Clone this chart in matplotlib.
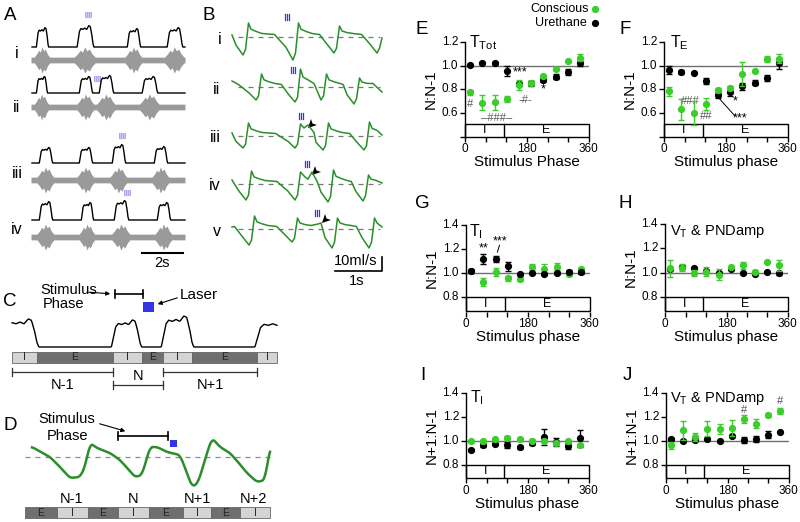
import numpy as np
import matplotlib
matplotlib.use('Agg')
import matplotlib.pyplot as plt
import matplotlib.transforms as mtrans
from matplotlib.patches import Rectangle, Polygon

plt.rcParams['font.family'] = ['Liberation Sans', 'DejaVu Sans']
plt.rcParams['mathtext.fontset'] = 'custom'
plt.rcParams['mathtext.rm'] = 'Liberation Sans'
plt.rcParams['mathtext.it'] = 'Liberation Sans:italic'

# ---------------- data (summary panels E-J) ----------------
phase = [15, 50, 86, 121, 157, 192, 228, 263, 298, 334]

E_con = [0.775, 0.686, 0.69, 0.717, 0.836, 0.855, 0.91, 0.97, 1.044, 1.067]
E_con_err = [0.02, 0.063, 0.063, 0.025, 0.04, 0.02, 0.015, 0.01, 0.0, 0.03]
E_ure = [1.01, 1.027, 1.02, 0.955, 0.845, 0.85, 0.878, 0.908, 0.947, 1.022]
E_ure_err = [0.008, 0.008, 0.012, 0.04, 0.02, 0.025, 0.018, 0.02, 0.024, 0.02]

F_con = [0.784, 0.632, 0.60, 0.677, 0.795, 0.81, 0.928, 0.953, 1.057, 1.06]
F_con_err = [0.04, 0.09, 0.1, 0.05, 0.02, 0.015, 0.1, 0.01, 0.025, 0.04]
F_ure = [0.967, 0.947, 0.94, 0.87, 0.753, 0.78, 0.825, 0.858, 0.90, 1.02]
F_ure_err = [0.035, 0.02, 0.005, 0.025, 0.025, 0.035, 0.03, 0.02, 0.025, 0.045]

G_con = [1.02, 0.93, 1.014, 0.96, 0.957, 1.05, 1.04, 1.055, 0.995, 1.033]
G_con_err = [0.01, 0.035, 0.035, 0.02, 0.02, 0.025, 0.04, 0.03, 0.015, 0.015]
G_ure = [1.022, 1.118, 1.12, 1.058, 0.995, 1.005, 0.995, 1.003, 1.015, 1.008]
G_ure_err = [0.015, 0.04, 0.025, 0.035, 0.01, 0.01, 0.01, 0.01, 0.01, 0.01]

H_con = [1.035, 1.04, 0.997, 1.008, 0.982, 1.045, 1.06, 1.005, 1.085, 1.058]
H_con_err = [0.07, 0.03, 0.025, 0.035, 0.045, 0.01, 0.03, 0.015, 0.01, 0.045]
H_ure = [1.03, 1.045, 1.037, 1.01, 0.995, 1.03, 0.995, 0.99, 1.005, 0.993]
H_ure_err = [0.01] * 10

I_con = [1.0, 0.995, 1.012, 1.028, 1.012, 1.003, 1.003, 0.985, 1.0, 0.967]
I_con_err = [0.01] * 10
I_ure = [0.925, 0.962, 0.975, 0.965, 0.945, 0.983, 1.033, 0.99, 0.958, 1.02]
I_ure_err = [0.01, 0.01, 0.01, 0.025, 0.01, 0.02, 0.07, 0.035, 0.025, 0.07]

J_con = [0.962, 1.09, 1.035, 1.103, 1.10, 1.106, 1.183, 1.145, 1.215, 1.25]
J_con_err = [0.03, 0.08, 0.035, 0.06, 0.045, 0.065, 0.035, 0.04, 0.015, 0.025]
J_ure = [1.017, 0.997, 1.011, 1.017, 0.997, 1.042, 1.008, 1.017, 1.05, 1.073]
J_ure_err = [0.01, 0.01, 0.01, 0.01, 0.01, 0.01, 0.025, 0.025, 0.03, 0.01]

# ---------------- data (trace panels A-D, pixel units) ----------------
A_base = [47, 93, 163, 220]
A_emg = [60, 107, 180, 237]
A_bursts = [[(37, 48), (78, 93), (128, 140), (168, 182)],
            [(37, 47), (80, 92), (100, 113), (143, 157)],
            [(40, 52), (80, 92), (113, 125), (155, 167)],
            [(40, 52), (82, 93), (115, 128), (158, 170)]]
A_heights = [[20, 22, 19, 20], [17, 17, 18, 17], [16, 16, 19, 17], [19, 18, 20, 18]]
A_stim = [(88, 15), (97, 79), (122, 136), (127, 193)]
A_labels = ['i', 'ii', 'iii', 'iv']
A_label_y = [53, 108, 173, 230]
BURST_SHAPE = [(-0.06, 0.0), (0.02, 0.35), (0.1, 0.72), (0.2, 0.84), (0.32, 0.8), (0.45, 0.86),
               (0.58, 0.8), (0.72, 0.97), (0.82, 0.92), (0.92, 0.55), (1.0, 0.15), (1.06, 0.0)]
EMG_SHAPE = [(-0.25, 0.22), (-0.05, 0.45), (0.15, 0.75), (0.3, 0.6), (0.45, 1.0), (0.6, 0.7),
             (0.75, 0.85), (0.95, 0.45), (1.15, 0.22)]

B_base = [37, 87, 136, 184, 229]
B_rises = [[247, 297, 338, 381], [260, 299, 325, 358], [247, 299, 327, 368],
           [250, 299, 332, 367], [253, 296, 336, 373]]
B_peaks = [[14, 14, 11, 4], [13, 18, 13, 9], [13, 12, 13, 14], [13, 12, 14, 9], [13, 11, 11, 11]]
B_depths = [[18, 23, 16, 16], [13, 15, 13, 17], [12, 12, 14, 14], [16, 16, 18, 17], [16, 13, 19, 19]]
B_bumps = [[], [], [(304, 8), (308, 11)], [(305, 7), (312, 12)], [(318, 5), (321, 6)]]
B_start = [2, 6, 3, 4, 2]
B_end = [-1, -5, 1, 1, 2]
B_stim = [(287, 17), (293, 70), (301, 116), (307, 164), (317, 213)]
B_arrows = [(308, 128), (312, 175), (322, 223)]
B_labels = ['i', 'ii', 'iii', 'iv', 'v']
B_label_x = [220, 217, 215, 215, 217]
B_label_y = [40, 89, 137, 185, 232]

C_base = 347
C_bursts = [(6, 37), (113, 140), (163, 192), (257, 292)]
C_heights = [29, 28, 32, 27]
C_segments = [(12, 37, 'I'), (37, 113, 'E'), (113, 142, 'I'), (142, 163, 'E'),
              (163, 192, 'I'), (192, 257, 'E'), (257, 277, 'I')]

D_x = [32, 50, 60, 70, 80, 85, 90, 97, 110, 120, 127, 135, 142, 150, 157, 167, 180, 187,
       192, 198, 207, 212, 220, 230, 238, 247, 257, 265, 270]
D_y = [447, 457, 467, 478, 477, 467, 443, 448, 453, 460, 468, 477, 475, 447, 447, 452, 455, 473,
       487, 483, 453, 438, 447, 453, 462, 473, 482, 480, 447]
D_segments = [(25, 57, 'E'), (57, 88, 'I'), (88, 118, 'E'), (118, 149, 'I'), (149, 183, 'E'),
              (183, 211, 'I'), (211, 240, 'E'), (240, 270, 'I')]
D_cycle_labels = [(72, 'N-1'), (133, 'N'), (197, 'N+1'), (253, 'N+2')]

GREEN = '#3ccc2c'
TGREEN = '#2a8f2a'
BLUE = '#3535e6'
LBLUE = '#a9a9f4'
DARKSEG = '#6f6f6f'
LIGHTSEG = '#d4d4d4'

fig = plt.figure(figsize=(8, 5.22), dpi=100)
ax0 = fig.add_axes([0, 0, 1, 1], zorder=-1)
ax0.set_xlim(0, 800)
ax0.set_ylim(522, 0)
ax0.axis('off')


def shape_points(s, e, shape):
    d = e - s
    return [s + f * d for f, _ in shape], [v for _, v in shape]


# ---------------- panel A ----------------
ax0.text(10, 15, 'A', fontsize=13.5, ha='center', va='center')
t0, t1 = 32, 185
for r in range(4):
    xs, ys = [t0], [0.0]
    ex, ey = [t0 - 1], [0.22]
    for (s, e), h in zip(A_bursts[r], A_heights[r]):
        px, pv = shape_points(s, e, BURST_SHAPE)
        xs += px
        ys += [v * h for v in pv]
        qx, qv = shape_points(s, e, EMG_SHAPE)
        ex += qx
        ey += qv
    xs.append(t1)
    ys.append(0.0)
    ex.append(t1)
    ey.append(0.22)
    ax0.plot(xs, [A_base[r] - v for v in ys], color='k', lw=1.0)
    hw = np.array(ey) * 13
    ax0.fill_between(ex, A_emg[r] - hw, A_emg[r] + hw, color='#9a9a9a', lw=0)
    sx, sy = A_stim[r]
    ax0.add_patch(Rectangle((sx - 3.5, sy - 3), 7, 6, color=LBLUE, lw=0))
    for k in range(3):
        ax0.plot([sx - 2 + 2 * k] * 2, [sy - 3, sy + 3], color='#d8d8fb', lw=0.5)
    ax0.text(17, A_label_y[r], A_labels[r], fontsize=11.5, ha='center', va='center')
ax0.plot([142, 183], [253, 253], color='k', lw=1.5)
ax0.text(162, 263, '2s', fontsize=10.5, ha='center', va='center')

# ---------------- panel B ----------------
ax0.text(209, 15, 'B', fontsize=13.5, ha='center', va='center')
bt0, bt1 = 232, 382
for r in range(5):
    pts = [(bt0, B_start[r])]
    prev = bt0 - 20
    for t, p, d in zip(B_rises[r], B_peaks[r], B_depths[r]):
        gap = t - prev
        cand = [(t - 0.45 * gap, 2.5), (t - 11, -0.45 * d), (t - 4, -d), (t - 1.5, -0.7 * d),
                (t + 1.5, p), (t + 4, 0.55 * p), (t + 9, 0.4 * p), (t + 15, 3.5)]
        for c in cand:
            if c[0] > pts[-1][0] + 0.5:
                pts.append(c)
        prev = t
    bumps = B_bumps[r]
    pts = [p for p in pts if all(abs(p[0] - b[0]) > 2.5 for b in bumps)]
    pts = sorted(pts + bumps)
    pts = [p for p in pts if p[0] < bt1]
    pts.append((bt1, B_end[r]))
    px = [p[0] for p in pts]
    py = [B_base[r] - p[1] for p in pts]
    ax0.plot([238, 380], [B_base[r]] * 2, color='#777777', lw=0.9, dashes=(4, 4))
    ax0.plot(px, py, color=TGREEN, lw=1.1)
    sx, sy = B_stim[r]
    for k in range(3):
        ax0.plot([sx - 2 + 2 * k] * 2, [sy - 3, sy + 3], color=BLUE, lw=0.9)
    ax0.text(B_label_x[r], B_label_y[r], B_labels[r], fontsize=11.5, ha='center', va='center')
for tx, ty in B_arrows:
    ax0.add_patch(Polygon([(tx, ty), (tx + 9, ty - 3), (tx + 4.5, ty - 4.5), (tx + 3, ty - 9)],
                          closed=True, color='k', lw=0))
ax0.plot([335, 382, 382], [271, 271, 257], color='k', lw=1.2)
ax0.text(356, 261, '10ml/s', fontsize=10.5, ha='center', va='center')
ax0.text(357, 281, '1s', fontsize=10.5, ha='center', va='center')

# ---------------- panel C ----------------
ax0.text(10, 301, 'C', fontsize=13.5, ha='center', va='center')
ax0.text(69, 290, 'Stimulus', fontsize=10.5, ha='center', va='center')
ax0.text(63, 304, 'Phase', fontsize=10.5, ha='center', va='center')
ax0.annotate('', xy=(113, 294), xytext=(86, 292),
             arrowprops=dict(arrowstyle='-|>', color='k', lw=0.8, mutation_scale=6))
ax0.plot([115, 143], [294, 294], color='k', lw=1.2)
ax0.plot([115, 115], [290, 298], color='k', lw=1.2)
ax0.plot([143, 143], [290, 298], color='k', lw=1.2)
ax0.text(199, 295, 'Laser', fontsize=11, ha='center', va='center')
ax0.annotate('', xy=(155, 305), xytext=(180, 297),
             arrowprops=dict(arrowstyle='-|>', color='k', lw=0.8, mutation_scale=6))
ax0.add_patch(Rectangle((143, 302), 11, 10, color=BLUE, lw=0))
cx, cy = [], []
for (s, e), h in zip(C_bursts, C_heights):
    px, pv = shape_points(s, e, BURST_SHAPE)
    cx += px
    cy += [v * h for v in pv]
gx = np.linspace(12, 277, 400)
gy = np.interp(gx, np.array(cx), np.array(cy))
ax0.plot(gx, C_base - gy, color='k', lw=1.0)
for s, e, lab in C_segments:
    ax0.add_patch(Rectangle((s, 352), e - s, 11, facecolor=DARKSEG if lab == 'E' else LIGHTSEG,
                            edgecolor='#666666', lw=0.6))
    ax0.text((s + e) / 2, 357.5, lab, fontsize=7.5, ha='center', va='center', color='#222222')
for x0b, x1b, yb, lab, ly in [(12, 113, 372, 'N-1', 385), (113, 163, 385, 'N', 376),
                              (163, 257, 372, 'N+1', 385)]:
    ax0.plot([x0b, x1b], [yb, yb], color='#333333', lw=0.9)
    ax0.plot([x0b, x0b], [yb - 4, yb + 4], color='#333333', lw=0.9)
    ax0.plot([x1b, x1b], [yb - 4, yb + 4], color='#333333', lw=0.9)
    ax0.text((x0b + x1b) / 2, ly, lab, fontsize=10.5, ha='center', va='center')

# ---------------- panel D ----------------
ax0.text(10, 425, 'D', fontsize=13.5, ha='center', va='center')
ax0.text(67, 419, 'Stimulus', fontsize=10.5, ha='center', va='center')
ax0.text(68, 436, 'Phase', fontsize=10.5, ha='center', va='center')
ax0.annotate('', xy=(128, 432), xytext=(97, 423),
             arrowprops=dict(arrowstyle='-|>', color='k', lw=0.8, mutation_scale=6))
ax0.plot([118, 168], [436, 436], color='k', lw=1.2)
ax0.plot([118, 118], [432, 440], color='k', lw=1.2)
ax0.plot([168, 168], [432, 440], color='k', lw=1.2)
ax0.add_patch(Rectangle((170, 440), 7, 7, color=BLUE, lw=0))
ax0.plot([25, 273], [457, 457], color='#888888', lw=0.9, dashes=(4, 4))
dx = np.linspace(D_x[0], D_x[-1], 600)
dy = np.interp(dx, D_x, D_y)
kern = np.ones(15) / 15
dys = np.convolve(np.pad(dy, 7, mode='edge'), kern, mode='valid')
ax0.plot(dx, dys, color=TGREEN, lw=1.8)
for s, e, lab in D_segments:
    ax0.add_patch(Rectangle((s, 507), e - s, 11, facecolor=DARKSEG if lab == 'E' else LIGHTSEG,
                            edgecolor='#666666', lw=0.6))
    ax0.text((s + e) / 2, 512.5, lab, fontsize=7.5, ha='center', va='center', color='#222222')
for xl, lab in D_cycle_labels:
    ax0.text(xl, 499, lab, fontsize=10.5, ha='center', va='center')


# ---------------- panels E-J ----------------
def make_ax(x0, x1, ytop, ybot):
    return fig.add_axes([x0 / 800, 1 - ybot / 522, (x1 - x0) / 800, (ybot - ytop) / 522],
                        facecolor='none')


def setup(ax, ylim, yticks, bar_top, xlabel, ylabel, ylab_x, ylab_y):
    eps = 0.004
    ax.set_xlim(-0.5, 360.5)
    ax.set_ylim(ylim[0] - eps, ylim[1] + eps)
    for sp in ['top', 'right']:
        ax.spines[sp].set_visible(False)
    ax.spines['left'].set_linewidth(1.0)
    ax.spines['left'].set_bounds(ylim[0], ylim[1])
    ax.spines['bottom'].set_visible(False)
    ax.plot([0, 360], [1.0, 1.0], color='#707070', lw=1.0, zorder=1)
    ax.add_patch(Rectangle((0, ylim[0]), 360, bar_top - ylim[0], fill=False, ec='k', lw=1.0,
                           clip_on=False, zorder=2))
    ax.plot([112, 112], [ylim[0], bar_top], color='k', lw=1.0, zorder=2)
    mid = (ylim[0] + bar_top) / 2
    ax.text(56, mid, 'I', fontsize=9, ha='center', va='center')
    ax.text(236, mid, 'E', fontsize=9, ha='center', va='center')
    ax.set_xticks([0, 180, 360])
    ax.set_xticks([60, 120, 240, 300], minor=True)
    ax.set_yticks(yticks)
    ax.set_yticklabels([])
    ax.tick_params(which='both', direction='out', length=3.5, width=1.0, labelsize=8.5, pad=1.5)
    ax.tick_params(axis='x', pad=1.0)
    # y tick labels written as text, right-aligned just left of the ticks
    tr = ax.get_yaxis_transform() + mtrans.ScaledTranslation(-0.07, 0, fig.dpi_scale_trans)
    for t in yticks:
        if t >= bar_top - 1e-6:
            ax.text(0, t, f'{t:.1f}', transform=tr, fontsize=8.5, ha='right', va='center',
                    clip_on=False, zorder=10)
    ax.set_xlabel(xlabel, fontsize=11, labelpad=0)
    ax.set_ylabel(ylabel, fontsize=11)
    ax.yaxis.set_label_coords(ylab_x, ylab_y)


def points(ax, con, con_err, ure, ure_err, black_top=False):
    zc, zu = (3, 4) if black_top else (4, 3)
    ax.errorbar(phase, ure, yerr=ure_err, fmt='o', color='k', ms=4.2, capsize=2, elinewidth=1,
                capthick=1, zorder=zu, clip_on=False)
    ax.errorbar(phase, con, yerr=con_err, fmt='o', color=GREEN, ms=4.2, capsize=2, elinewidth=1,
                capthick=1, zorder=zc, clip_on=False)


def ftext(x, y, s, **kw):
    fig.text(x / 800, 1 - y / 522, s, **kw)


ANN = '#555555'
# E
axE = make_ax(465, 589, 41.7, 137)
setup(axE, (0.4, 1.2), [0.4, 0.6, 0.8, 1.0, 1.2], 0.51, 'Stimulus Phase', 'N:N-1', -0.22, 0.5)
points(axE, E_con, E_con_err, E_ure, E_ure_err)
axE.text(15, 0.672, '#', fontsize=8, ha='center', va='center', color=ANN)
axE.text(160, 0.94, '***', fontsize=9, ha='center', va='center')
axE.text(228, 0.80, '*', fontsize=9, ha='center', va='center')
axE.text(176, 0.711, '-#-', fontsize=8, ha='center', va='center', color=ANN)
axE.text(92, 0.561, '\u2013###\u2013', fontsize=8, ha='center', va='center', color=ANN)

# F
axF = make_ax(664, 788, 41.7, 137)
setup(axF, (0.4, 1.2), [0.4, 0.6, 0.8, 1.0, 1.2], 0.51, 'Stimulus phase', 'N:N-1', -0.22, 0.5)
points(axF, F_con, F_con_err, F_ure, F_ure_err)
axF.text(75, 0.703, '###', fontsize=8, ha='center', va='center', color=ANN)
axF.text(123, 0.572, '##', fontsize=8, ha='center', va='center', color=ANN)
axF.text(208, 0.697, '*', fontsize=9, ha='center', va='center')
axF.text(222, 0.55, '***', fontsize=9, ha='center', va='center')
axF.plot([162, 205], [0.717, 0.578], color='k', lw=0.7)

# G
axG = make_ax(466, 590, 225, 311.7)
setup(axG, (0.685, 1.4), [0.8, 1.0, 1.2, 1.4], 0.8, 'Stimulus phase', 'N:N-1', -0.22, 0.5)
points(axG, G_con, G_con_err, G_ure, G_ure_err, black_top=True)
axG.text(52, 1.212, '**', fontsize=9, ha='center', va='center')
axG.text(100, 1.27, '***', fontsize=9, ha='center', va='center')
axG.plot([91, 97], [1.178, 1.235], color='k', lw=0.7)

# H
axH = make_ax(665, 788, 223.3, 311.7)
setup(axH, (0.683, 1.4), [0.8, 1.0, 1.2, 1.4], 0.8, 'Stimulus phase', 'N:N-1', -0.22, 0.5)
points(axH, H_con, H_con_err, H_ure, H_ure_err)

# I
axI = make_ax(466, 589, 392.7, 478.3)
setup(axI, (0.69, 1.4), [0.8, 1.0, 1.2, 1.4], 0.8, 'Stimulus phase', 'N+1:N-1', -0.22, 0.5)
points(axI, I_con, I_con_err, I_ure, I_ure_err)

# J
axJ = make_ax(666, 789, 392.7, 478.3)
setup(axJ, (0.69, 1.4), [0.8, 1.0, 1.2, 1.4], 0.8, 'Stimulus phase', 'N+1:N-1', -0.22, 0.5)
points(axJ, J_con, J_con_err, J_ure, J_ure_err)
axJ.text(228, 1.255, '#', fontsize=8, ha='center', va='center', color=ANN)
axJ.text(334, 1.334, '#', fontsize=8, ha='center', va='center', color=ANN)

# titles
ftext(469, 47, r'T$_{\mathrm{Tot}}$', fontsize=11.5, ha='left', va='baseline')
ftext(670, 47, r'T$_{\mathrm{E}}$', fontsize=11.5, ha='left', va='baseline')
ftext(469, 236.5, r'T$_{\mathrm{I}}$', fontsize=11.5, ha='left', va='baseline')
ftext(670, 235, r'V$_{\mathrm{T}}$ & PNDamp', fontsize=10.5, ha='left', va='baseline')
ftext(470, 402.7, r'T$_{\mathrm{I}}$', fontsize=11.5, ha='left', va='baseline')
ftext(670, 402, r'V$_{\mathrm{T}}$ & PNDamp', fontsize=10.5, ha='left', va='baseline')

# panel letters
for lx, ly, lab in [(422, 29, 'E'), (625, 29, 'F'), (422, 203, 'G'), (625, 203, 'H'),
                    (423, 375, 'I'), (627, 376, 'J')]:
    ftext(lx, ly, lab, fontsize=13.5, ha='center', va='center')

# legend
ftext(589, 9, 'Conscious', fontsize=9, ha='right', va='center')
ftext(587, 23, 'Urethane', fontsize=9, ha='right', va='center')
ax0.plot([595], [9], 'o', color=GREEN, ms=4.2)
ax0.plot([595], [23], 'o', color='k', ms=4.2)

fig.savefig('out.png', dpi=100)
